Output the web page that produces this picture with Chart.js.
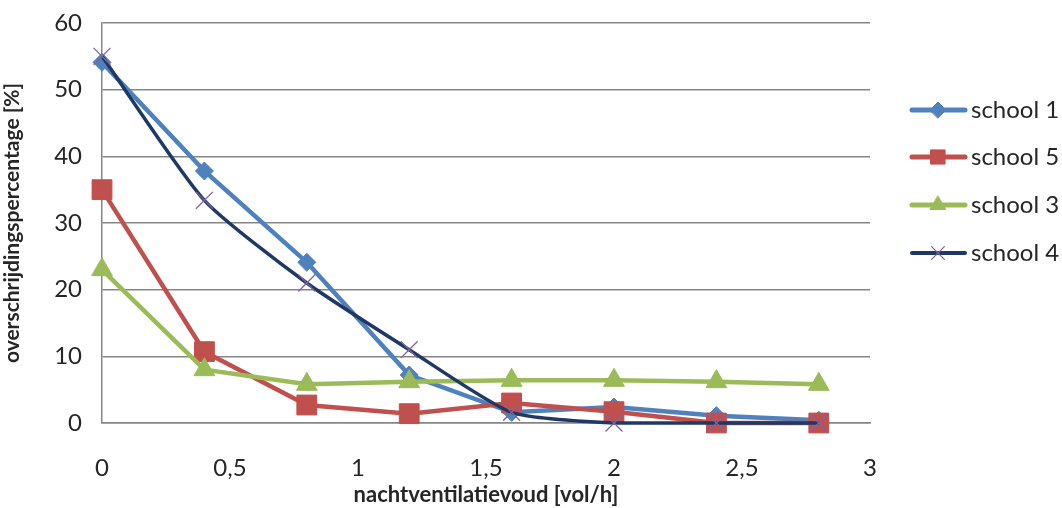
<!DOCTYPE html>
<html>
<head>
<meta charset="utf-8">
<script src="https://cdn.jsdelivr.net/npm/chart.js@4"></script>
<style>
  html, body { margin: 0; padding: 0; background: #fff; }
  #wrap { width: 1062px; height: 508px; }
</style>
</head>
<body>
<div id="wrap"><canvas id="chart" width="1062" height="508"></canvas></div>
<script>
  // ventilation rates (x) and exceedance percentages per school
  const ventilatie = [0, 0.4, 0.8, 1.2, 1.6, 2.0, 2.4, 2.8];
  const school1 = [54.1, 37.8, 24.1, 7.2, 1.6, 2.4, 1.1, 0.4];
  const school5 = [35.0, 10.7, 2.7, 1.4, 3.0, 1.7, 0, 0];
  const school3 = [23.0, 8.0, 5.8, 6.2, 6.4, 6.4, 6.2, 5.8];
  const school4 = [55.0, 33.4, 21.0, 11.0, 1.6, 0, 0, 0];
  const xTicks = [0, 0.5, 1, 1.5, 2, 2.5, 3];
  const yTicks = [0, 10, 20, 30, 40, 50, 60];

  const FONT = "Lato, 'Open Sans', sans-serif";
  const toPoints = (vals) => vals.map((v, i) => ({ x: ventilatie[i], y: v }));

  const series = [
    { label: "school 1", data: school1, color: "#4F81BD", marker: "rectRot", radius: 9, lw: 4.5, order: 3 },
    { label: "school 5", data: school5, color: "#C0504D", marker: "rect", radius: 14, lw: 4.5, order: 2 },
    { label: "school 3", data: school3, color: "#9BBB59", marker: "triangle", radius: 12, lw: 4.5, order: 1 },
    { label: "school 4", data: school4, color: "#1F3864", marker: "crossRot", radius: 12, lw: 3.5, order: 0,
      pointColor: "#8064A2", smooth: true },
  ];

  // legend drawn on the right like the Excel original
  const sideLegend = {
    id: "sideLegend",
    afterDraw(chart) {
      const ctx = chart.ctx;
      const rows = [110, 157, 205, 253];
      series.forEach((s, i) => {
        const y = rows[i];
        ctx.save();
        ctx.strokeStyle = s.color;
        ctx.lineWidth = s.lw + 0.5;
        ctx.lineCap = "round";
        ctx.beginPath();
        ctx.moveTo(912, y);
        ctx.lineTo(965, y);
        ctx.stroke();
        const pc = s.pointColor || s.color;
        ctx.fillStyle = pc;
        ctx.strokeStyle = pc;
        ctx.lineWidth = s.marker === "crossRot" ? 1.2 : 1;
        Chart.helpers.drawPoint(ctx, {
          pointStyle: s.marker,
          radius: s.marker === "rect" ? 10 : s.marker === "rectRot" ? 8 : 9,
          rotation: 0,
          borderWidth: ctx.lineWidth,
        }, 938, y);
        ctx.fillStyle = "#262626";
        ctx.font = "24px " + FONT;
        ctx.textBaseline = "middle";
        ctx.fillText(s.label, 971, y);
        ctx.restore();
      });
    },
  };

  new Chart(document.getElementById("chart"), {
    type: "line",
    data: {
      datasets: series.map((s) => ({
        label: s.label,
        data: toPoints(s.data),
        borderColor: s.color,
        backgroundColor: s.pointColor || s.color,
        borderWidth: s.lw,
        pointStyle: s.marker,
        pointRadius: s.radius,
        pointBorderColor: s.pointColor || s.color,
        pointBackgroundColor: s.pointColor || s.color,
        pointBorderWidth: s.marker === "crossRot" ? 1.3 : 1,
        tension: s.smooth ? 0.2 : 0,
        order: s.order,
        clip: false,
      })),
    },
    options: {
      responsive: false,
      animation: false,
      layout: { padding: { top: 23, right: 192, left: 0, bottom: 0 } },
      plugins: {
        legend: { display: false },
        tooltip: { enabled: false },
      },
      scales: {
        x: {
          type: "linear",
          min: 0,
          max: 3,
          afterBuildTicks: (scale) => {
            scale.ticks = xTicks.map((v) => ({ value: v }));
          },
          afterFit: (scale) => { scale.height = 85; },
          grid: { display: false, drawTicks: false },
          border: { display: true, color: "#868686", width: 1.5 },
          ticks: {
            padding: 31,
            color: "#262626",
            font: { family: FONT, size: 24 },
            callback: (v) => String(v).replace(".", ","),
          },
          title: {
            display: true,
            text: "nachtventilatievoud [vol/h]",
            color: "#262626",
            font: { family: FONT, size: 22, weight: "bold" },
            padding: { top: 0, bottom: 0 },
          },
        },
        y: {
          min: 0,
          max: 60,
          afterBuildTicks: (scale) => {
            scale.ticks = yTicks.map((v) => ({ value: v }));
          },
          afterFit: (scale) => {
            scale.width = 102;
            scale.paddingTop = 0;
            scale.paddingBottom = 0;
          },
          grid: { color: "#868686", lineWidth: 1.5, drawTicks: false },
          border: { display: true, color: "#868686", width: 1.5 },
          ticks: {
            padding: 20,
            color: "#262626",
            font: { family: FONT, size: 24 },
          },
          title: {
            display: true,
            text: "overschrijdingspercentage [%]",
            color: "#262626",
            font: { family: FONT, size: 21, weight: "bold" },
            padding: { top: 0, bottom: 2 },
          },
        },
      },
    },
    plugins: [sideLegend],
  });
</script>
</body>
</html>
